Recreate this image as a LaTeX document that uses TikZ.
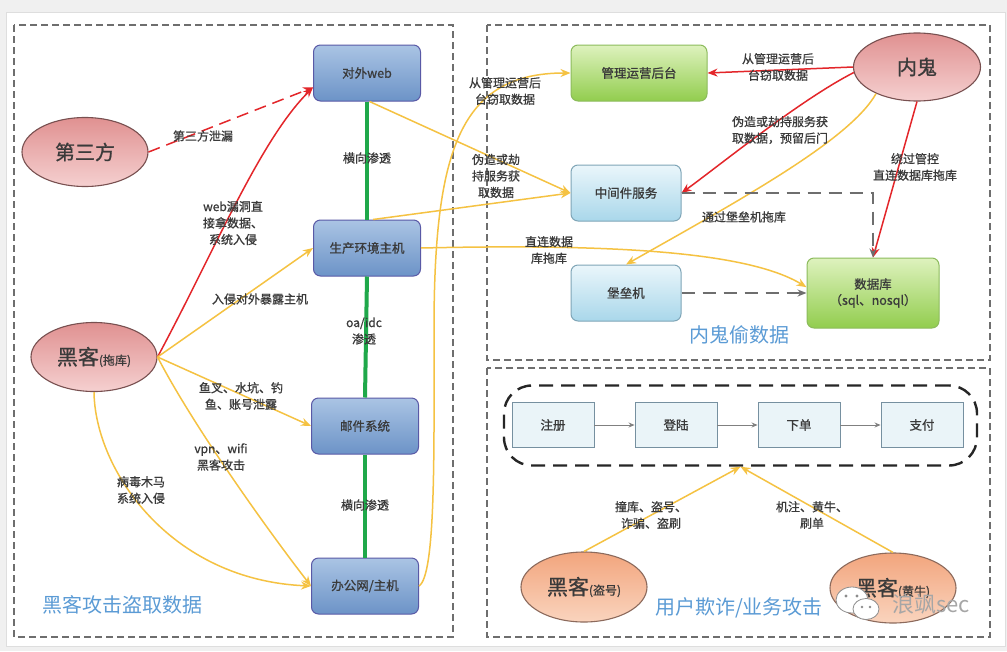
\documentclass[tikz,border=0pt]{standalone}
\usepackage{fontspec}
\setmainfont[AutoFakeBold=0.9]{Noto Sans CJK SC}
\usetikzlibrary{arrows.meta,shapes.geometric}
\definecolor{ylw}{HTML}{F5C242}
\definecolor{rd}{HTML}{E3262A}
\definecolor{grn}{HTML}{1FA84A}
\definecolor{ttl}{HTML}{5B9BD5}
\definecolor{txt}{HTML}{3A3A3A}
\definecolor{dgray}{HTML}{6E6E6E}
\tikzset{
  bluebox/.style={rectangle, rounded corners=7pt, draw=blue!30!gray, line width=1pt,
    top color={rgb,255:red,170;green,196;blue,228}, bottom color={rgb,255:red,108;green,147;blue,199},
    minimum width=107pt, minimum height=56pt, font=\fontsize{12.5}{15}\selectfont\bfseries, text=txt},
  greenbox/.style={rectangle, rounded corners=7pt, draw={rgb,255:red,140;green,187;blue,92}, line width=1pt,
    top color={rgb,255:red,222;green,242;blue,190}, bottom color={rgb,255:red,146;green,205;blue,78},
    minimum height=56pt, font=\fontsize{12.5}{16}\selectfont\bfseries, text=txt, align=center},
  lbluebox/.style={rectangle, rounded corners=7pt, draw={rgb,255:red,127;green,165;blue,183}, line width=1pt,
    top color={rgb,255:red,234;green,246;blue,251}, bottom color={rgb,255:red,169;green,215;blue,234},
    minimum width=110pt, minimum height=56pt, font=\fontsize{12.5}{15}\selectfont\bfseries, text=txt},
  redell/.style={ellipse, draw={rgb,255:red,120;green,80;blue,80}, line width=1.1pt,
    top color={rgb,255:red,224;green,145;blue,145}, bottom color={rgb,255:red,245;green,208;blue,208},
    minimum width=126pt, minimum height=69pt, inner sep=0pt, text=txt},
  orgell/.style={ellipse, draw={rgb,255:red,140;green,106;blue,92}, line width=1.1pt,
    top color={rgb,255:red,242;green,165;blue,125}, bottom color={rgb,255:red,250;green,212;blue,190},
    minimum width=126pt, minimum height=70pt, inner sep=0pt, text=txt},
  flowbox/.style={rectangle, draw={rgb,255:red,118;green,144;blue,160}, line width=0.9pt,
    fill={rgb,255:red,234;green,244;blue,248}, minimum width=82pt, minimum height=45pt,
    font=\fontsize{12.5}{15}\selectfont\bfseries, text=txt},
  lbl/.style={font=\fontsize{12}{16.5}\selectfont\bfseries, text=txt, align=center, inner sep=0pt},
  ttlbl/.style={font=\fontsize{20}{24}\selectfont, text=ttl, inner sep=0pt},
  panel/.style={draw=dgray, line width=1.1pt, dash pattern=on 7pt off 4pt},
  yarr/.style={draw=ylw, line width=1.5pt, -{Stealth[length=10pt,width=8pt]}},
  rarr/.style={draw=rd, line width=1.5pt, -{Stealth[length=10pt,width=8pt]}},
  glink/.style={draw=grn, line width=4pt},
  gdash/.style={draw=dgray, line width=2pt, dash pattern=on 13pt off 8pt, -{Stealth[length=9pt,width=7pt]}},
  farr/.style={draw=gray, line width=0.9pt, -{Stealth[length=6pt,width=5pt]}},
  elltxt/.style={font=\fontsize{20}{24}\selectfont\bfseries}
}
\begin{document}
\begin{tikzpicture}[x=1pt,y=-1pt]
\useasboundingbox (0,0) rectangle (1007,651);
\fill[black!6] (0,0) rectangle (1007,651);
\draw[black!13, fill=white] (6,12) rectangle (1005,646);
% panels
\draw[panel] (14,25) rectangle (453,637);
\draw[panel] (487,25) rectangle (990,360);
\draw[panel] (487,368) rectangle (990,637);

% left nodes
\node[bluebox] (web) at (367,73) {对外web};
\node[bluebox] (prod) at (367,248) {生产环境主机};
\node[bluebox] (mail) at (365,426) {邮件系统};
\node[bluebox] (office) at (365,586) {办公网/主机};
\node[redell] (tp) at (85,152) {\fontsize{20}{24}\selectfont\bfseries 第三方};
\node[redell] (hk) at (94,357) {\fontsize{21}{24}\selectfont\bfseries 黑客\fontsize{12}{14}\selectfont(拖库)};

% right top nodes
\node[greenbox, minimum width=136pt] (mgmt) at (639,73) {管理运营后台};
\node[lbluebox] (mid) at (626,193) {中间件服务};
\node[lbluebox] (bas) at (626,293) {堡垒机};
\node[greenbox, minimum width=132pt, minimum height=70pt] (db) at (873,293) {数据库\\（sql、nosql）};
\node[redell, minimum width=127pt, minimum height=68pt] (gh) at (917,67) {\fontsize{20}{24}\selectfont\bfseries 内鬼};

% bottom right nodes
\node[draw=black!85, line width=2.4pt, dash pattern=on 14pt off 8pt, rounded corners=28pt,
  minimum width=473pt, minimum height=80pt] (cont) at (740.5,425.5) {};
\node[flowbox] (fa) at (553,425) {注册};
\node[flowbox] (fb) at (676,425) {登陆};
\node[flowbox] (fc) at (799,425) {下单};
\node[flowbox] (fd) at (922,425) {支付};
\node[orgell] (hd) at (584,587) {\fontsize{21}{24}\selectfont\bfseries 黑客\fontsize{12}{14}\selectfont(盗号)};
\node[orgell] (hy) at (893,588) {\fontsize{21}{24}\selectfont\bfseries 黑客\fontsize{12}{14}\selectfont(黄牛)};

% green links
\draw[glink] (web.south) -- (prod.north);
\draw[glink] (prod.south) -- (mail.north);
\draw[glink] (mail.south) -- (office.north);

% left connectors
\draw[draw=rd, line width=1.5pt, dash pattern=on 12pt off 7pt, -{Stealth[length=10pt,width=8pt]}] (tp.east) -- (web.-165);
\draw[rarr] (hk.east) .. controls (215,250) and (260,140) .. (web.-165);
\draw[yarr] (hk.east) -- (prod.west);
\draw[yarr] (hk.east) -- (mail.west);
\draw[yarr] (hk.east) .. controls (190,420) and (260,520) .. (office.west);
\draw[yarr] (hk.south) .. controls (95,470) and (170,580) .. (office.west);
\draw[yarr] (office.east) .. controls (436,575) and (434,450) .. (434,330) .. controls (434,150) and (460,73) .. (mgmt.west);
\draw[yarr] (web.-85) -- (mid.west);
\draw[yarr] (prod.78) -- (mid.west);
\draw[yarr] (prod.east) .. controls (600,244) and (745,250) .. (db.175);

% right connectors
\draw[rarr] (gh.west) -- (mgmt.east);
\draw[rarr] (gh.185) .. controls (800,100) and (720,165) .. (mid.east);
\draw[rarr] (gh.south) -- (db.north);
\draw[yarr] (gh.213) .. controls (850,140) and (740,200) .. (bas.north);
\draw[gdash] (mid.east) -| (db.north);
\draw[gdash] (bas.east) -- (db.west);

% flow
\draw[farr] (fa) -- (fb);
\draw[farr] (fb) -- (fc);
\draw[farr] (fc) -- (fd);
\draw[yarr] (hd.north) -- (cont.south);
\draw[yarr] (hy.north) -- (cont.south);

% labels
\node[lbl] (l1) at (203,136) {第三方泄漏};
\node[lbl] (l2) at (233,223) {web漏洞直\\接拿数据、\\系统入侵};
\node[lbl] (l3) at (367,158) {横向渗透};
\node[lbl] (l4) at (260,299) {入侵对外暴露主机};
\node[lbl] (l5) at (364,331) {oa/idc\\渗透};
\node[lbl] (l6) at (241,396) {鱼叉、水坑、钓\\鱼、账号泄露};
\node[lbl] (l7) at (221,457) {vpn、wifi\\黑客攻击};
\node[lbl] (l8) at (141,490) {病毒木马\\系统入侵};
\node[lbl] (l9) at (365,505) {横向渗透};
\node[lbl] (l10) at (505,91) {从管理运营后\\台窃取数据};
\node[lbl] (l11) at (496,176) {伪造或劫\\持服务获\\取数据};
\node[lbl] (l12) at (549,250) {直连数据\\库拖库};
\node[lbl] (l13) at (778,67) {从管理运营后\\台窃取数据};
\node[lbl] (l14) at (780,130) {伪造或劫持服务获\\取数据，预留后门};
\node[lbl] (l15) at (915,167) {绕过管控\\直连数据库拖库};
\node[lbl] (l16) at (744,217) {通过堡垒机拖库};
\node[lbl] (l17) at (651,515) {撞库、盗号、\\诈骗、盗刷};
\node[lbl] (l18) at (812,515) {机注、黄牛、\\刷单};

% titles
\node[ttlbl] (t1) at (122,605) {黑客攻击盗取数据};
\node[ttlbl] (t2) at (739,335) {内鬼偷数据};
\node[ttlbl] (t3) at (739,608) {用户欺诈/业务攻击};

% watermark
\draw[black!45, fill=white, line width=0.8pt] (852,600) ellipse (16 and 13);
\draw[black!45, fill=white, line width=0.8pt] (866,609) ellipse (13 and 10.5);
\fill[black!45] (846,596) circle (1.6) (857,596) circle (1.6) (862,607) circle (1.3) (870,607) circle (1.3);
\node[font=\fontsize{22}{26}\selectfont, text=black!35, inner sep=0pt] (wm) at (931,604) {浪飒sec};
\end{tikzpicture}
\end{document}
